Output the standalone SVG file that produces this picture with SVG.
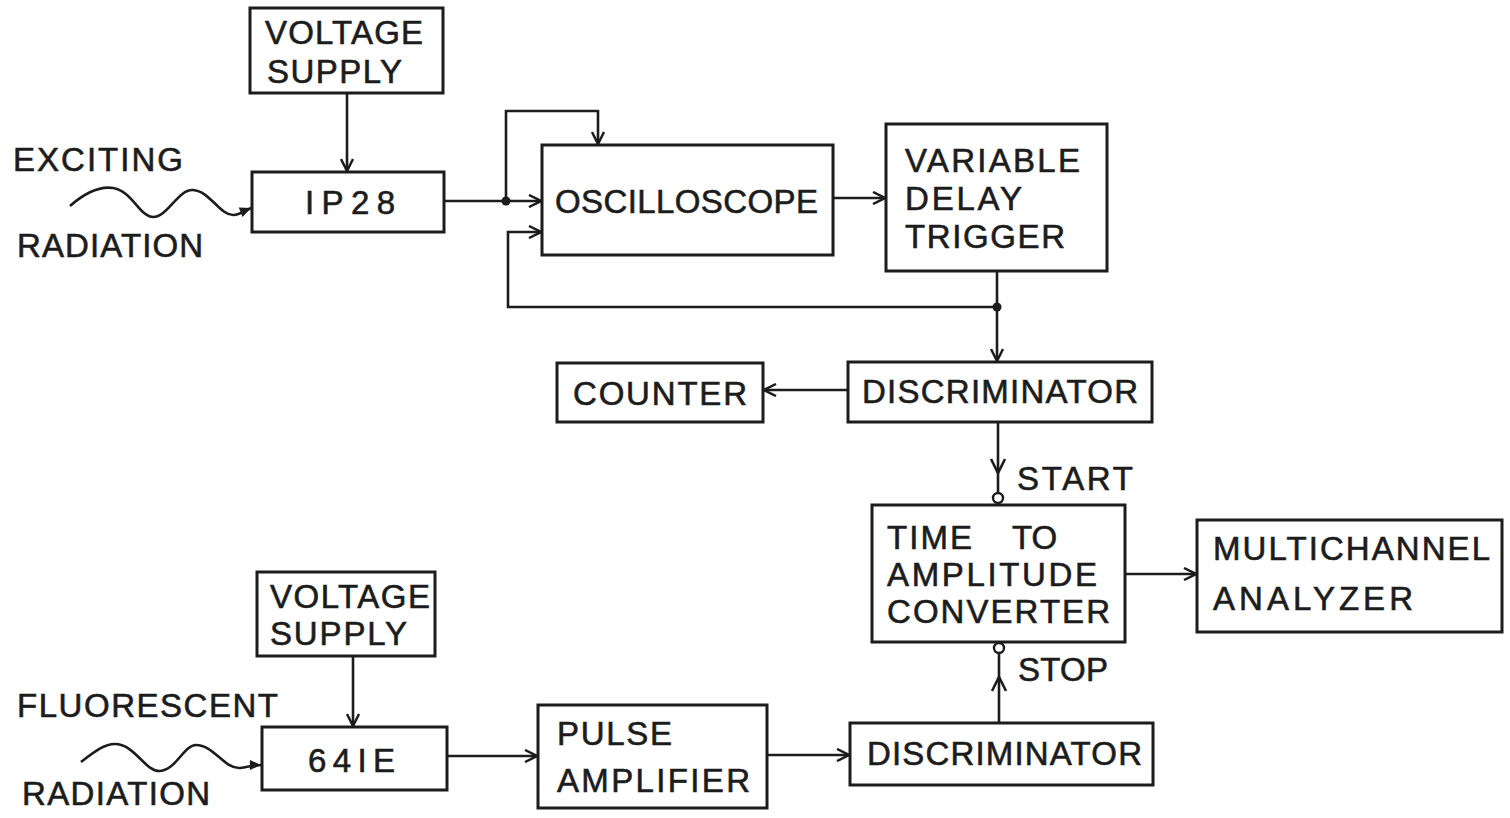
<svg xmlns="http://www.w3.org/2000/svg" width="1510" height="818" viewBox="0 0 1510 818">
<style>
.box{fill:none;stroke:#1c1c1c;stroke-width:3}
.ln{fill:none;stroke:#1c1c1c;stroke-width:2.6}
.t{font-family:"Liberation Sans",Arial,sans-serif;font-size:33px;fill:#1c1c1c;stroke:#1c1c1c;stroke-width:0.6}
.dot{fill:#1c1c1c}
.oc{fill:#fff;stroke:#1c1c1c;stroke-width:2.4}
</style>
<defs>
<marker id="arr" viewBox="0 0 14 14" markerWidth="14" markerHeight="14" refX="13" refY="7" orient="auto" markerUnits="userSpaceOnUse">
<path d="M1,1 L13,7 L1,13" fill="none" stroke="#1c1c1c" stroke-width="2.5"/>
</marker>
<marker id="farr" viewBox="0 0 14 14" markerWidth="13" markerHeight="13" refX="13" refY="7" orient="auto" markerUnits="userSpaceOnUse">
<path d="M1,1.5 L13,7 L1,12.5 Z" fill="#1c1c1c"/>
</marker>
</defs>
<rect width="1510" height="818" fill="#fff"/>

<g id="connectors">
<line class="ln" x1="347" y1="93" x2="347" y2="171" marker-end="url(#arr)"/>
<path class="ln" d="M70,206 C86,192 100,186 113,188 C132,191 140,217 153,217 C168,217 178,189 193,190 C210,191 220,216 234,215 C242,214 246,210 251,208" marker-end="url(#farr)"/>
<line class="ln" x1="444" y1="201" x2="541" y2="201" marker-end="url(#arr)"/>
<polyline class="ln" points="506,201 506,111 598,111 598,144" marker-end="url(#arr)"/>
<line class="ln" x1="833" y1="198" x2="885" y2="198" marker-end="url(#arr)"/>
<polyline class="ln" points="997,307 508,307 508,232 541,232" marker-end="url(#arr)"/>
<line class="ln" x1="997" y1="271" x2="997" y2="361" marker-end="url(#arr)"/>
<line class="ln" x1="848" y1="390" x2="764" y2="390" marker-end="url(#arr)"/>
<line class="ln" x1="998" y1="422" x2="998" y2="493"/>
<polyline class="ln" points="991,459 998,473 1005,459"/>
<line class="ln" x1="999" y1="723" x2="999" y2="653"/>
<polyline class="ln" points="992,691 999,677 1006,691"/>
<line class="ln" x1="1125" y1="574" x2="1196" y2="574" marker-end="url(#arr)"/>
<line class="ln" x1="353" y1="656" x2="353" y2="726" marker-end="url(#arr)"/>
<path class="ln" d="M81,762 C94,752 104,744 115,744 C135,744 145,772 160,771 C176,770 184,745 196,745 C214,745 224,769 240,768 C248,767 254,765 261,765" marker-end="url(#farr)"/>
<line class="ln" x1="447" y1="756" x2="537" y2="756" marker-end="url(#arr)"/>
<line class="ln" x1="767" y1="755" x2="849" y2="755" marker-end="url(#arr)"/>
<circle class="dot" cx="506" cy="201" r="4.5"/>
<circle class="dot" cx="997" cy="307" r="4.5"/>
<circle class="oc" cx="998" cy="498" r="5"/>
<circle class="oc" cx="999" cy="648" r="5"/>
</g>

<g id="label-exciting">
<text class="t" x="13" y="171" textLength="170">EXCITING</text>
<text class="t" x="17" y="257" textLength="186">RADIATION</text>
</g>
<g id="label-fluorescent">
<text class="t" x="17" y="717" textLength="261">FLUORESCENT</text>
<text class="t" x="22" y="805" textLength="188">RADIATION</text>
</g>

<g id="voltage-supply-1">
<rect class="box" x="250" y="8" width="193" height="85"/>
<text class="t" x="265" y="44" textLength="158">VOLTAGE</text>
<text class="t" x="267" y="83" textLength="135">SUPPLY</text>
</g>
<g id="ip28">
<rect class="box" x="252" y="172" width="192" height="60"/>
<text class="t" x="305" y="214" textLength="90">IP28</text>
</g>
<g id="oscilloscope">
<rect class="box" x="542" y="145" width="291" height="110"/>
<text class="t" x="555" y="213" textLength="263">OSCILLOSCOPE</text>
</g>
<g id="variable-delay-trigger">
<rect class="box" x="886" y="124" width="221" height="147"/>
<text class="t" x="905" y="172" textLength="175">VARIABLE</text>
<text class="t" x="905" y="210" textLength="117">DELAY</text>
<text class="t" x="905" y="248" textLength="160">TRIGGER</text>
</g>
<g id="counter">
<rect class="box" x="557" y="363" width="206" height="59"/>
<text class="t" x="573" y="405" textLength="174">COUNTER</text>
</g>
<g id="discriminator-1">
<rect class="box" x="848" y="362" width="304" height="60"/>
<text class="t" x="862" y="403" textLength="276">DISCRIMINATOR</text>
</g>
<g id="start-label">
<text class="t" x="1017" y="490" textLength="116">START</text>
</g>
<g id="tac">
<rect class="box" x="872" y="505" width="253" height="137"/>
<text class="t" x="887" y="549" textLength="85">TIME</text>
<text class="t" x="1012" y="549">TO</text>
<text class="t" x="887" y="586" textLength="210">AMPLITUDE</text>
<text class="t" x="887" y="623" textLength="223">CONVERTER</text>
</g>
<g id="stop-label">
<text class="t" x="1018" y="681" textLength="90">STOP</text>
</g>
<g id="mca">
<rect class="box" x="1197" y="520" width="305" height="112"/>
<text class="t" x="1213" y="560" textLength="277">MULTICHANNEL</text>
<text class="t" x="1213" y="610" textLength="200">ANALYZER</text>
</g>
<g id="voltage-supply-2">
<rect class="box" x="257" y="572" width="178" height="84"/>
<text class="t" x="270" y="608" textLength="160">VOLTAGE</text>
<text class="t" x="270" y="645" textLength="137">SUPPLY</text>
</g>
<g id="tube-641e">
<rect class="box" x="262" y="727" width="185" height="63"/>
<text class="t" x="308" y="772" textLength="87">64IE</text>
</g>
<g id="pulse-amplifier">
<rect class="box" x="538" y="705" width="229" height="103"/>
<text class="t" x="557" y="745" textLength="115">PULSE</text>
<text class="t" x="557" y="792" textLength="193">AMPLIFIER</text>
</g>
<g id="discriminator-2">
<rect class="box" x="850" y="723" width="303" height="62"/>
<text class="t" x="867" y="765" textLength="275">DISCRIMINATOR</text>
</g>
</svg>
